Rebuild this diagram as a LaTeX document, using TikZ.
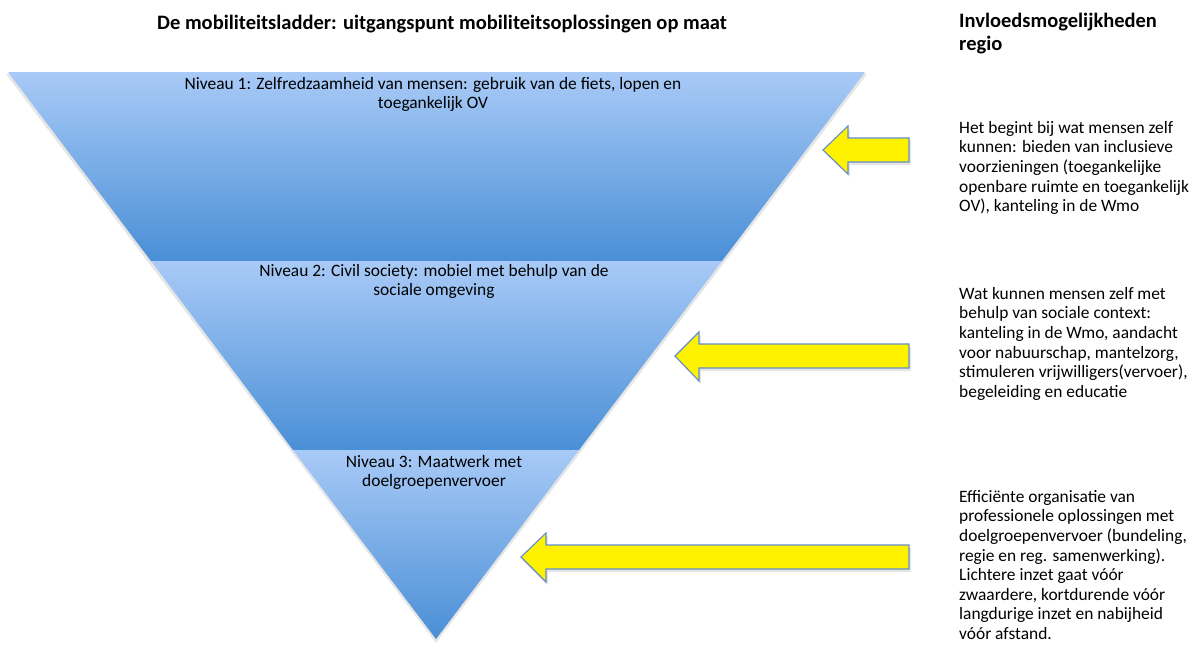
\documentclass[tikz,border=0pt]{standalone}
\usepackage{fontspec}
\setmainfont{Carlito}
\usetikzlibrary{shadings}

\definecolor{ladderlicht}{RGB}{168,202,247}
\definecolor{ladderdonker}{RGB}{74,143,214}
\definecolor{pijlrand}{RGB}{98,142,200}

\begin{document}
\begin{tikzpicture}[x=1pt,y=-1pt]

	\tikzset{
	  trede/.style={top color=ladderlicht,bottom color=ladderdonker},
	  schaduw/.style={fill=black,opacity=0.10},
	  pijl/.style={fill=yellow,draw=pijlrand,line width=1.1pt,line join=miter},
	  tekst/.style={inner sep=0pt,font=\fontsize{17.4}{19.6}\selectfont},
	  kop/.style={inner sep=0pt,font=\fontsize{20.5}{23}\selectfont\bfseries},
	  niveautekst/.style={tekst,align=center,anchor=north},
	  uitleg/.style={tekst,align=left,anchor=north west},
	}
	\useasboundingbox (0,0) rectangle (1200,645);
	% de ladder: drie treden
	\fill[schaduw] (6,74)--(867,74)--(436,643)--cycle;
	\shade[trede] (8,72)--(865,72)--(722,261)--(151,261)--cycle;
	\shade[trede] (151,261)--(722,261)--(579,450)--(293,450)--cycle;
	\shade[trede] (293,450)--(579,450)--(436,639)--cycle;
	\node[niveautekst] (niveau1) at (433,77) {Niveau 1: Zelfredzaamheid van mensen: gebruik van de fiets, lopen en\\toegankelijk OV};
	\node[niveautekst] (niveau2) at (434,264) {Niveau 2: Civil society: mobiel met behulp van de\\sociale omgeving};
	\node[niveautekst] (niveau3) at (434,455) {Niveau 3: Maatwerk met\\doelgroepenvervoer};
	% pijlen
	\fill[schaduw] (825,153)--(850,129)--(850,140)--(911,140)--(911,165)--(850,165)--(850,177)--cycle;
	\draw[pijl] (823,150)--(848,126)--(848,138)--(909,138)--(909,162)--(848,162)--(848,174)--cycle;
	\fill[schaduw] (677,359)--(701,335)--(701,347)--(911,347)--(911,371)--(701,371)--(701,384)--cycle;
	\draw[pijl] (675,356)--(699,332)--(699,344)--(909,344)--(909,368)--(699,368)--(699,381)--cycle;
	\fill[schaduw] (523,560)--(548,536)--(548,548)--(911,548)--(911,572)--(548,572)--(548,585)--cycle;
	\draw[pijl] (521,557)--(546,533)--(546,545)--(909,545)--(909,569)--(546,569)--(546,582)--cycle;
	% titels
	\node[kop] (titel) at (442,24) {De mobiliteitsladder: uitgangspunt mobiliteitsoplossingen op maat};
	\node[kop,align=left,anchor=north west] (regio) at (959,13) {Invloedsmogelijkheden\\regio};
	% invloed per niveau
	\node[uitleg] (invloed1) at (959,121) {Het begint bij wat mensen zelf\\kunnen: bieden van inclusieve\\voorzieningen (toegankelijke\\openbare ruimte en toegankelijk\\OV), kanteling in de Wmo};
	\node[uitleg] (invloed2) at (959,287) {Wat kunnen mensen zelf met\\behulp van sociale context:\\kanteling in de Wmo, aandacht\\voor nabuurschap, mantelzorg,\\stimuleren vrijwilligers(vervoer),\\begeleiding en educatie};
	\node[uitleg] (invloed3) at (959,490) {Efficiënte organisatie van\\professionele oplossingen met\\doelgroepenvervoer (bundeling,\\regie en reg. samenwerking).\\Lichtere inzet gaat vóór\\zwaardere, kortdurende vóór\\langdurige inzet en nabijheid\\vóór afstand.};

\end{tikzpicture}
\end{document}
